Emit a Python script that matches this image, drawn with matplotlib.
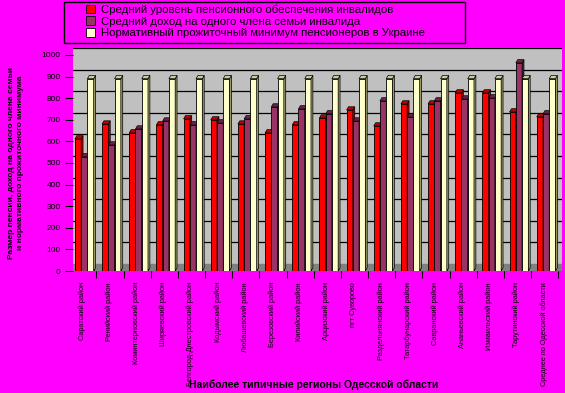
import matplotlib
matplotlib.use("Agg")
import matplotlib.pyplot as plt
from matplotlib.patches import Patch, Polygon, Rectangle

plt.rcParams['font.family'] = ['Liberation Sans', 'DejaVu Sans']

regions = ["Саратский район", "Ренийский район", "Коминтерновский район",
           "Ширяевский район", "Белгород-Днестровский район", "Кодымский район",
           "Любашевский район", "Березовский район", "Килийский район",
           "Арцизский район", "пгт Суворово", "Раздельнянский район",
           "Татарбунарский район", "Савранский район", "Ананьевский район",
           "Измаильский район", "Тарутинский район", "Среднее по Одесской области"]

pension = [611, 680, 639, 676, 704, 699, 680, 639, 676,
           708, 745, 671, 773, 773, 824, 824, 736, 713]
income = [528, 583, 657, 694, 676, 685, 704, 759, 750,
          727, 694, 787, 713, 787, 796, 801, 963, 727]
minimum = [890] * 18

series_names = ["Средний уровень пенсионного обеспечения инвалидов",
                "Средний доход на одного члена семьи инвалида",
                "Нормативный прожиточный минимум пенсионеров в Украине"]

bg = "#FF00FF"
face_cols = ["#FF0000", "#993366", "#FFFFCC"]
top_cols = ["#C00000", "#6B2447", "#CCCC99"]
side_cols = ["#A00000", "#5A1E3C", "#999966"]

fig = plt.figure(figsize=(5.65, 3.93), dpi=100, facecolor=bg)
ax = fig.add_axes([73 / 565, 122 / 393, 489 / 565, 223 / 393])
ax.set_facecolor("#C0C0C0")

depth_v = 32       # wall offset in value units
dx, dy = 0.07, 15  # bar top / side offset
w = 0.23

ax.set_xlim(-0.5, 17.5)
ax.set_ylim(0, 1032)

# floor and back gridlines
ax.axhspan(0, depth_v, color="#808080", zorder=0)
for v in range(100, 1001, 100):
    ax.axhline(v + depth_v, color="black", lw=0.9, zorder=0.5)

x = list(range(len(regions)))
offsets = [-0.43, -0.20, 0.03]
for k, vals in enumerate([pension, income, minimum]):
    xs = [i + offsets[k] for i in x]
    ax.bar(xs, vals, width=w, align="edge", color=face_cols[k],
           edgecolor="black", lw=0.6, zorder=2 + k)
    for x0, v in zip(xs, vals):
        top = Polygon([(x0, v), (x0 + dx, v + dy), (x0 + w + dx, v + dy), (x0 + w, v)],
                      closed=True, facecolor=top_cols[k], edgecolor="black", lw=0.5,
                      zorder=2 + k)
        side = Polygon([(x0 + w, 0), (x0 + w, v), (x0 + w + dx, v + dy), (x0 + w + dx, dy)],
                       closed=True, facecolor=side_cols[k], edgecolor="black", lw=0.5,
                       zorder=2 + k)
        ax.add_patch(side)
        ax.add_patch(top)

for s in ax.spines.values():
    s.set_visible(False)

ax.set_yticks(range(0, 1001, 100))
ax.set_yticklabels([str(v) for v in range(0, 1001, 100)], fontsize=6)
ax.tick_params(axis="y", length=6, width=0.8, pad=3)

ax.set_xticks([i - 0.17 for i in x])
ax.set_xticklabels(regions, rotation=90, fontsize=5.3, va="top", ha="center")
ax.set_xticks([i + 0.36 for i in x], minor=True)
ax.tick_params(axis="x", which="major", length=0, pad=8)
ax.tick_params(axis="x", which="minor", length=5, width=0.8)

fig.text(314 / 565, 1 - 385 / 393, "Наиболее типичные регионы Одесской области",
         ha="center", va="center", fontsize=7.5, fontweight="bold")
fig.text(16 / 565, 1 - 163 / 393,
         "Размер пенсии, доход на одного члена семьи\nи нормативного прожиточного минимума",
         ha="center", va="center", rotation=90, fontsize=6, fontweight="bold",
         linespacing=1.3)

# legend frame
fig.patches.append(Rectangle((64 / 565, 1 - 43 / 393), 401 / 565, 41 / 393,
                             transform=fig.transFigure, facecolor=bg,
                             edgecolor="black", lw=1.0, zorder=0))
handles = [Patch(facecolor=c, edgecolor="black", lw=0.6) for c in face_cols]
leg = fig.legend(handles, series_names, loc="upper left",
                 bbox_to_anchor=(84 / 565, 1 - 2 / 393),
                 fontsize=8.2, frameon=False,
                 handlelength=0.75, handleheight=0.75, handletextpad=0.5,
                 borderpad=0.2, labelspacing=0.15, borderaxespad=0)

fig.savefig("out.png", dpi=100, facecolor=bg)
